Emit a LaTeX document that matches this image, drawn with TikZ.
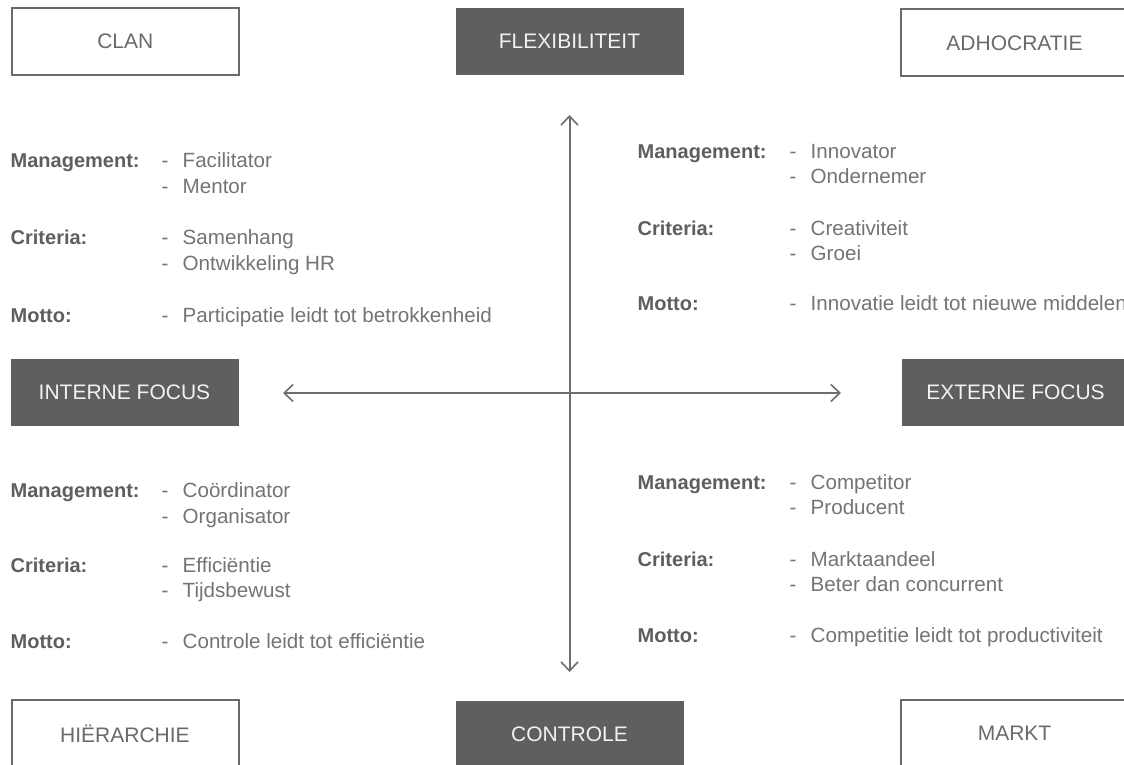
\documentclass[tikz,border=0pt]{standalone}
\usepackage{fontspec}
\setmainfont{Liberation Sans}
\usetikzlibrary{arrows.meta}
\definecolor{boxgray}{HTML}{6A6A6A}
\definecolor{darkfill}{HTML}{5F5F61}
\definecolor{axisgray}{HTML}{6E6E6E}
\definecolor{lblgray}{HTML}{5E5E5E}
\definecolor{itmgray}{HTML}{747474}
\definecolor{ontext}{HTML}{F2F2F2}
\begin{document}
\begin{tikzpicture}[x=1pt,y=-1pt,
  font=\fontsize{20.6}{24}\selectfont,
  whitebox/.style={draw=boxgray, line width=2pt, fill=white, minimum width=227pt, minimum height=67pt, text=boxgray, inner sep=0pt, font=\fontsize{21}{24}\selectfont},
  darkbox/.style={fill=darkfill, draw=none, minimum width=228pt, minimum height=67pt, text=ontext, inner sep=0pt, font=\fontsize{21}{24}\selectfont},
  lbl/.style={anchor=base west, inner sep=0pt, text=lblgray, font=\fontsize{20}{24}\selectfont\bfseries},
  dsh/.style={anchor=base west, inner sep=0pt, text=itmgray},
  itm/.style={anchor=base west, inner sep=0pt, text=itmgray},
  axis/.style={draw=axisgray, line width=2pt, {Straight Barb[length=9pt,width=17pt,line width=1.6pt]}-{Straight Barb[length=9pt,width=17pt,line width=1.6pt]}}
]
\clip (0,0) rectangle (1124,765);
\fill[white] (0,0) rectangle (1124,765);

% corner and axis boxes
\node[whitebox] (clan) at (125.3,41.7) {CLAN};
\node[darkbox] (flex) at (569.5,41.5) {FLEXIBILITEIT};
\node[whitebox] (adho) at (1014.5,43) {ADHOCRATIE};
\node[darkbox] (intern) at (124.5,392.5) {INTERNE FOCUS};
\node[darkbox] (extern) at (1015.5,392.5) {EXTERNE FOCUS};
\node[whitebox] (hier) at (125,733.5) {HIËRARCHIE};
\node[darkbox] (contr) at (569.5,734.5) {CONTROLE};
\node[whitebox] (markt) at (1014.5,733.5) {MARKT};

% axes
\coordinate (vtop) at (569.5,115);
\coordinate (vbot) at (569.5,672);
\coordinate (hleft) at (283,393);
\coordinate (hright) at (841,393);
\draw[axis] (vbot) -- (vtop);
\draw[axis] (hleft) -- (hright);

% top-left block
\node[lbl] (tlM) at (10.5,167) {Management:};
\node[dsh] (tlMd1) at (161.5,167) {-};
\node[itm] (tlM1) at (182.5,167) {Facilitator};
\node[dsh] (tlMd2) at (161.5,193) {-};
\node[itm] (tlM2) at (182.5,193) {Mentor};
\node[lbl] (tlC) at (10.5,244) {Criteria:};
\node[dsh] (tlCd1) at (161.5,244) {-};
\node[itm] (tlC1) at (182.5,244) {Samenhang};
\node[dsh] (tlCd2) at (161.5,270) {-};
\node[itm] (tlC2) at (182.5,270) {Ontwikkeling HR};
\node[lbl] (tlT) at (10.5,322) {Motto:};
\node[dsh] (tlTd) at (161.5,322) {-};
\node[itm] (tlT1) at (182.5,322) {Participatie leidt tot betrokkenheid};

% top-right block
\node[lbl] (trM) at (637.5,158) {Management:};
\node[dsh] (trMd1) at (789.5,158) {-};
\node[itm] (trM1) at (810.5,158) {Innovator};
\node[dsh] (trMd2) at (789.5,183) {-};
\node[itm] (trM2) at (810.5,183) {Ondernemer};
\node[lbl] (trC) at (637.5,235) {Criteria:};
\node[dsh] (trCd1) at (789.5,235) {-};
\node[itm] (trC1) at (810.5,235) {Creativiteit};
\node[dsh] (trCd2) at (789.5,260) {-};
\node[itm] (trC2) at (810.5,260) {Groei};
\node[lbl] (trT) at (637.5,310) {Motto:};
\node[dsh] (trTd) at (789.5,310) {-};
\node[itm] (trT1) at (810.5,310) {Innovatie leidt tot nieuwe middelen};

% bottom-left block
\node[lbl] (blM) at (10.5,497) {Management:};
\node[dsh] (blMd1) at (161.5,497) {-};
\node[itm] (blM1) at (182.5,497) {Coördinator};
\node[dsh] (blMd2) at (161.5,523) {-};
\node[itm] (blM2) at (182.5,523) {Organisator};
\node[lbl] (blC) at (10.5,572) {Criteria:};
\node[dsh] (blCd1) at (161.5,572) {-};
\node[itm] (blC1) at (182.5,572) {Efficiëntie};
\node[dsh] (blCd2) at (161.5,597) {-};
\node[itm] (blC2) at (182.5,597) {Tijdsbewust};
\node[lbl] (blT) at (10.5,648) {Motto:};
\node[dsh] (blTd) at (161.5,648) {-};
\node[itm] (blT1) at (182.5,648) {Controle leidt tot efficiëntie};

% bottom-right block
\node[lbl] (brM) at (637.5,489) {Management:};
\node[dsh] (brMd1) at (789.5,489) {-};
\node[itm] (brM1) at (810.5,489) {Competitor};
\node[dsh] (brMd2) at (789.5,514) {-};
\node[itm] (brM2) at (810.5,514) {Producent};
\node[lbl] (brC) at (637.5,566) {Criteria:};
\node[dsh] (brCd1) at (789.5,566) {-};
\node[itm] (brC1) at (810.5,566) {Marktaandeel};
\node[dsh] (brCd2) at (789.5,591) {-};
\node[itm] (brC2) at (810.5,591) {Beter dan concurrent};
\node[lbl] (brT) at (637.5,642) {Motto:};
\node[dsh] (brTd) at (789.5,642) {-};
\node[itm] (brT1) at (810.5,642) {Competitie leidt tot productiviteit};
\end{tikzpicture}
\end{document}
